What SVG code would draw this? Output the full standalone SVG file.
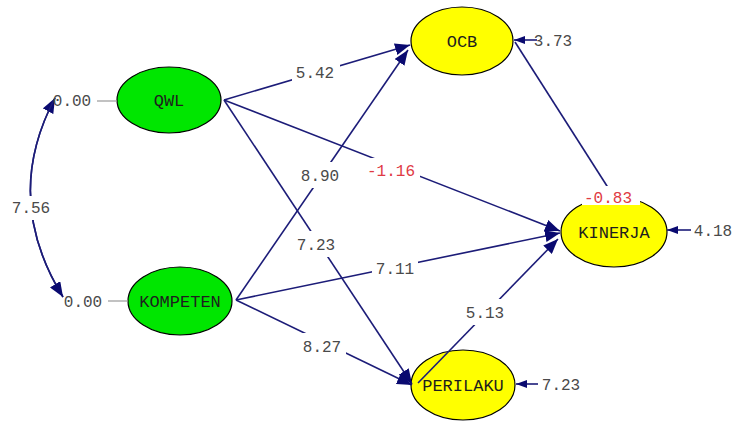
<svg xmlns="http://www.w3.org/2000/svg" width="739" height="421" viewBox="0 0 739 421">
<style>
.lat{fill:#00e600;stroke:#000;stroke-width:1.2}
.obs{fill:#ffff00;stroke:#000;stroke-width:1.2}
.nt{font-family:"Liberation Mono",monospace;font-size:17px;fill:#1e1e1e;text-anchor:middle}
.lb{font-family:"Liberation Mono",monospace;font-size:16px;fill:#4a4a4a;text-anchor:middle}
.red{fill:#e03a44}
.ln{stroke:#1c1c78;stroke-width:1.6;fill:none}
.gr{stroke:#999;stroke-width:1.2}
.bg{fill:#fff}
</style>
<defs>
<marker id="ah" markerUnits="userSpaceOnUse" markerWidth="16" markerHeight="12" refX="15" refY="6" orient="auto">
<path d="M0,0 L15,6 L0,12 z" fill="#0a0a70"/>
</marker>
<marker id="as" markerUnits="userSpaceOnUse" markerWidth="12" markerHeight="8" refX="11" refY="4" orient="auto">
<path d="M0,0 L11,4 L0,8 z" fill="#0a0a70"/>
</marker>
</defs>
<rect width="739" height="421" fill="#fff"/>
<g id="QWL"><ellipse class="lat" cx="169" cy="100" rx="52" ry="33"/><text class="nt" x="169" y="106">QWL</text></g>
<g id="KOMPETEN"><ellipse class="lat" cx="180" cy="301" rx="52" ry="34"/><text class="nt" x="180" y="307">KOMPETEN</text></g>
<g id="OCB"><ellipse class="obs" cx="462" cy="41" rx="51" ry="34"/><text class="nt" x="462" y="47">OCB</text></g>
<g id="KINERJA"><ellipse class="obs" cx="614" cy="232" rx="53" ry="35"/><text class="nt" x="614" y="238">KINERJA</text></g>
<g id="PERILAKU"><ellipse class="obs" cx="463" cy="385" rx="52" ry="35"/><text class="nt" x="463" y="391">PERILAKU</text></g>
<g id="connectors">
<line class="gr" x1="97" y1="101" x2="117" y2="101"/>
<line class="gr" x1="108" y1="301" x2="128" y2="301"/>
<path class="ln" d="M63,297 Q2,198 55,98" marker-end="url(#ah)"/>
<path class="ln" d="M55,98 Q2,198 63,297" marker-end="url(#ah)"/>
<line class="ln" x1="224" y1="100" x2="410" y2="45" marker-end="url(#ah)"/>
<line class="ln" x1="236" y1="300" x2="408" y2="50" marker-end="url(#ah)"/>
<line class="ln" x1="224" y1="100" x2="560" y2="231" marker-end="url(#ah)"/>
<line class="ln" x1="224" y1="100" x2="412" y2="384" marker-end="url(#ah)"/>
<line class="ln" x1="236" y1="300" x2="560" y2="233" marker-end="url(#ah)"/>
<line class="ln" x1="236" y1="300" x2="412" y2="385" marker-end="url(#ah)"/>
<line class="ln" x1="418" y1="383" x2="558" y2="239" marker-end="url(#ah)"/>
<line class="ln" x1="515" y1="42" x2="614" y2="197"/>
<line class="ln" x1="537" y1="40" x2="514" y2="40" marker-end="url(#as)"/>
<line class="ln" x1="691" y1="230" x2="667" y2="230" marker-end="url(#as)"/>
<line class="ln" x1="538" y1="384" x2="516" y2="384" marker-end="url(#as)"/>
<rect class="bg" x="12" y="196" width="38" height="24"/>
<text class="lb" x="31" y="213">7.56</text>
<text class="lb" x="72" y="106">0.00</text>
<text class="lb" x="83" y="307">0.00</text>
<rect class="bg" x="292" y="62" width="48" height="22"/>
<text class="lb" x="315" y="78">5.42</text>
<rect class="bg" x="296" y="162" width="48" height="26"/>
<text class="lb" x="320" y="181">8.90</text>
<rect class="bg" x="362" y="158" width="58" height="24"/>
<text class="lb red" x="391" y="176">-1.16</text>
<rect class="bg" x="293" y="231" width="46" height="26"/>
<text class="lb" x="316" y="250">7.23</text>
<rect class="bg" x="372" y="256" width="46" height="24"/>
<text class="lb" x="395" y="274">7.11</text>
<rect class="bg" x="298" y="333" width="48" height="26"/>
<text class="lb" x="322" y="352">8.27</text>
<rect class="bg" x="462" y="299" width="46" height="26"/>
<text class="lb" x="485" y="318">5.13</text>
<rect class="bg" x="582" y="186" width="58" height="19"/>
<text class="lb red" x="608" y="203">-0.83</text>
<text class="lb" x="553" y="46">3.73</text>
<text class="lb" x="713" y="236">4.18</text>
<text class="lb" x="561" y="390">7.23</text>
</g>
</svg>
